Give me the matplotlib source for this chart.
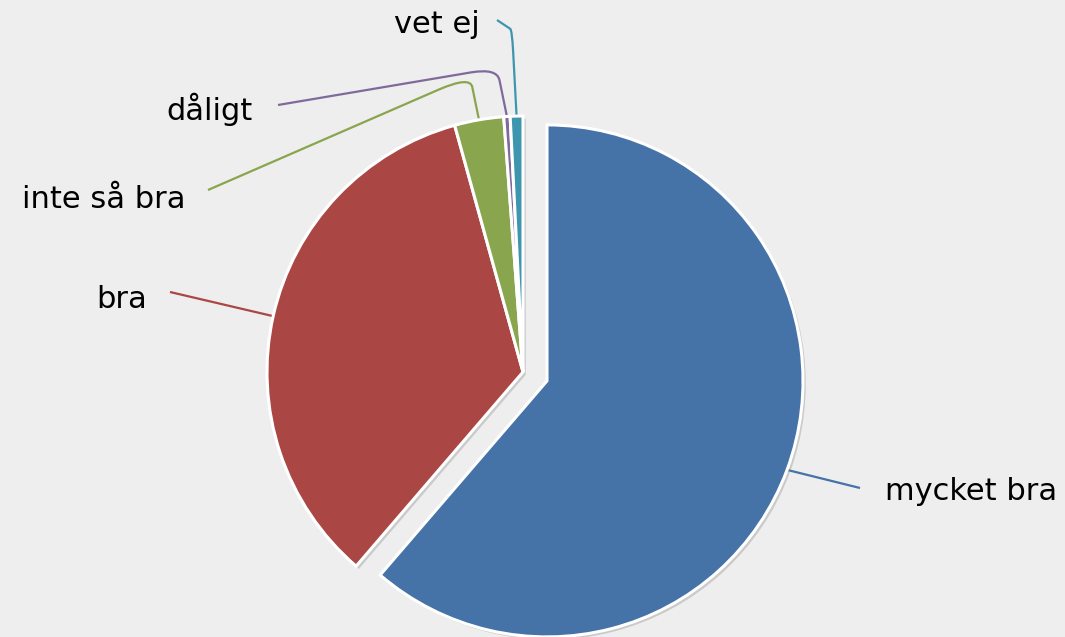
import numpy as np
import matplotlib
matplotlib.use("Agg")
import matplotlib.pyplot as plt
from matplotlib.path import Path
from matplotlib.patches import PathPatch
import matplotlib.patheffects as pe

labels = ["mycket bra", "bra", "inte så bra", "dåligt", "vet ej"]
values = [61.3, 34.4, 3.1, 0.4, 0.8]
colors = ["#4572A7", "#AA4643", "#89A54E", "#80699B", "#3D96AE"]
explode_frac = [0.1, 0, 0, 0, 0]

W, H = 1065, 637
BG = "#EEEEEE"
fig = plt.figure(figsize=(W / 100, H / 100), dpi=100, facecolor=BG)
ax = fig.add_axes([0, 0, 1, 1])
ax.set_facecolor(BG)

R = 256
C = (523, H - 372)
wedges, _ = ax.pie(values, colors=colors, explode=[e * R for e in explode_frac],
                   startangle=90, counterclock=False, radius=R, center=C,
                   wedgeprops=dict(edgecolor="white", linewidth=2.2),
                   frame=True)
ax.set_xlim(0, W)
ax.set_ylim(0, H)
ax.set_aspect("equal")
ax.axis("off")
for w in wedges:
    w.set_path_effects([pe.SimplePatchShadow(offset=(2, -2), shadow_rgbFace="#888888", alpha=0.35),
                        pe.Normal()])


def P(x, y):
    return (x, H - y)


def edge_point(w):
    t = np.deg2rad((w.theta1 + w.theta2) / 2)
    cx, cy = w.center
    return (cx + w.r * np.cos(t), cy + w.r * np.sin(t))


# label layout: (text anchor, ha, connector start, elbow or None)
layout = [
    (P(885, 500), "left", P(860, 488), None),
    (P(147, 308), "right", P(170, 292), None),
    (P(185, 208), "right", P(208, 190), P(470, 76)),
    (P(253, 120), "right", P(278, 105), P(497, 68)),
    (P(480, 33), "right", P(497, 20), P(512, 30)),
]

for w, lab, col, (tpos, ha, start, elbow) in zip(wedges, labels, colors, layout):
    end = edge_point(w)
    if elbow is None:
        verts = [start, end]
        codes = [Path.MOVETO, Path.LINETO]
    else:
        sx, sy = start
        ex, ey = elbow
        fx, fy = end
        k = 0.12
        a = (ex + (sx - ex) * k, ey + (sy - ey) * k)
        b = (ex + (fx - ex) * 0.25, ey + (fy - ey) * 0.25)
        verts = [start, a, elbow, b, end]
        codes = [Path.MOVETO, Path.LINETO, Path.CURVE3, Path.CURVE3, Path.LINETO]
    ax.add_patch(PathPatch(Path(verts, codes), facecolor="none", edgecolor=col,
                           linewidth=1.6, zorder=0.5))
    ax.text(tpos[0], tpos[1], lab, ha=ha, va="baseline", fontsize=22,
            family="DejaVu Sans", color="black")

fig.savefig("out.png", dpi=100, facecolor=BG)
